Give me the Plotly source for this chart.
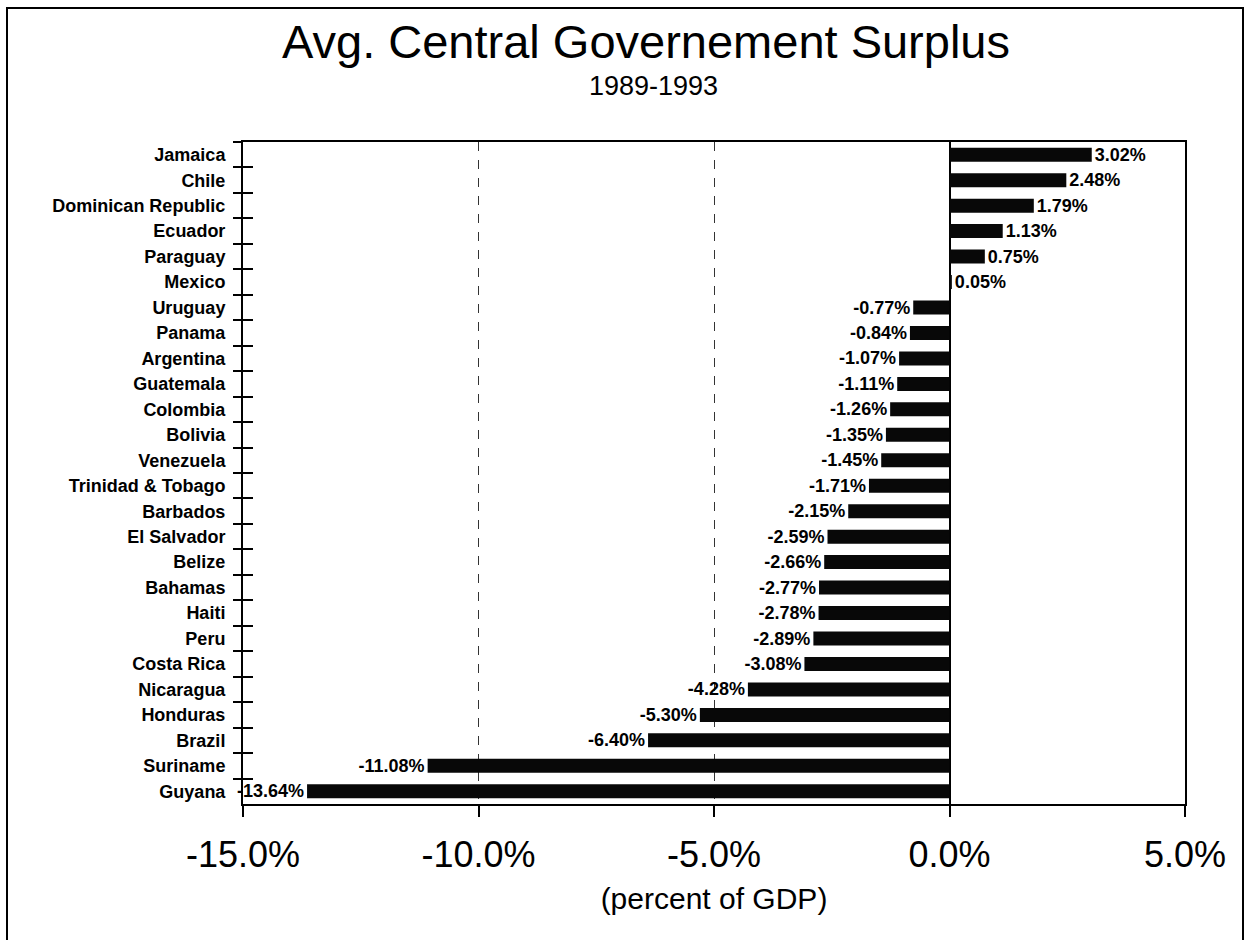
import plotly.graph_objects as go

countries = ["Jamaica", "Chile", "Dominican Republic", "Ecuador", "Paraguay", "Mexico",
             "Uruguay", "Panama", "Argentina", "Guatemala", "Colombia", "Bolivia",
             "Venezuela", "Trinidad & Tobago", "Barbados", "El Salvador", "Belize",
             "Bahamas", "Haiti", "Peru", "Costa Rica", "Nicaragua", "Honduras",
             "Brazil", "Suriname", "Guyana"]
surplus = [3.02, 2.48, 1.79, 1.13, 0.75, 0.05,
           -0.77, -0.84, -1.07, -1.11, -1.26, -1.35,
           -1.45, -1.71, -2.15, -2.59, -2.66,
           -2.77, -2.78, -2.89, -3.08, -4.28, -5.30,
           -6.40, -11.08, -13.64]
x_ticks = [-15, -10, -5, 0, 5]

W, H = 1249, 940
ml, mr, mt, mb = 243, 64, 142, 136
PW, PH = W - ml - mr, H - mt - mb
FONT = "Liberation Sans, Arial, sans-serif"
cat_range = [len(countries) - 0.5, -0.5]  # reversed category range (top row first)


def px_to_paper(px, py):
    return (px - ml) / PW, (H - py - mb) / PH


fig = go.Figure()
fig.add_trace(go.Bar(
    x=surplus, y=countries, orientation="h",
    marker=dict(color="#080808", line=dict(width=0)),
    text=[f"{v:.2f}%" for v in surplus],
    textposition="outside", cliponaxis=False, constraintext="none",
    textfont=dict(family=FONT, size=18, color="black", weight="bold"),
    hoverinfo="skip",
))
# transparent companion trace so the overlay axis draws the inner halves of the category ticks
fig.add_trace(go.Scatter(x=surplus, y=countries, mode="markers", yaxis="y2",
                         marker=dict(opacity=0, size=1), hoverinfo="skip", showlegend=False))

sx, sy = px_to_paper(653, 86)
bx0, by1 = px_to_paper(7, 8)
bx1, by0 = px_to_paper(1243, 960)
fig.update_layout(
    width=W, height=H,
    margin=dict(l=ml, r=mr, t=mt, b=mb),
    paper_bgcolor="white", plot_bgcolor="white",
    bargap=0.45, showlegend=False,
    font=dict(family=FONT, color="black"),
    title=dict(text="Avg. Central Governement Surplus", x=646 / W, y=1 - 42 / H,
               xref="container", yref="container", xanchor="center", yanchor="middle",
               font=dict(family=FONT, size=47, color="black")),
    annotations=[dict(text="1989-1993", x=sx, y=sy, xref="paper", yref="paper",
                      showarrow=False, xanchor="center", yanchor="middle",
                      font=dict(family=FONT, size=27, color="black"))],
    shapes=[dict(type="rect", xref="paper", yref="paper",
                 x0=bx0, x1=bx1, y0=by0, y1=by1,
                 line=dict(color="black", width=2), layer="below")],
    yaxis=dict(
        range=cat_range, type="category", categoryorder="array", categoryarray=countries,
        tickson="boundaries", ticks="outside", ticklen=8, tickcolor="black", tickwidth=1.5,
        tickfont=dict(family=FONT, size=18, color="black", weight="bold"),
        showline=True, linecolor="black", linewidth=2, mirror=True,
        showgrid=False, ticklabelstandoff=12,
    ),
    yaxis2=dict(
        overlaying="y", side="left", anchor="x", range=cat_range, type="category",
        categoryorder="array", categoryarray=countries, tickson="boundaries",
        ticks="inside", ticklen=10, tickcolor="black", tickwidth=1.5,
        showticklabels=False, showgrid=False, showline=False, zeroline=False,
    ),
)

fig.update_xaxes(
    range=[-15, 5], tickvals=x_ticks, ticktext=[f"{v:.1f}%" for v in x_ticks],
    tickfont=dict(family=FONT, size=36, color="black"),
    ticks="outside", ticklen=11, tickcolor="black", tickwidth=1.5,
    ticklabelstandoff=7,
    showline=True, linecolor="black", linewidth=2, mirror=True,
    showgrid=True, gridcolor="#333", griddash="dash", gridwidth=1,
    zeroline=True, zerolinecolor="black", zerolinewidth=1.5,
    title=dict(text="(percent of GDP)", font=dict(family=FONT, size=30, color="black"), standoff=14),
)

fig.write_html("out.html", config={"displayModeBar": False},
               post_script="document.body.style.margin='0';")
